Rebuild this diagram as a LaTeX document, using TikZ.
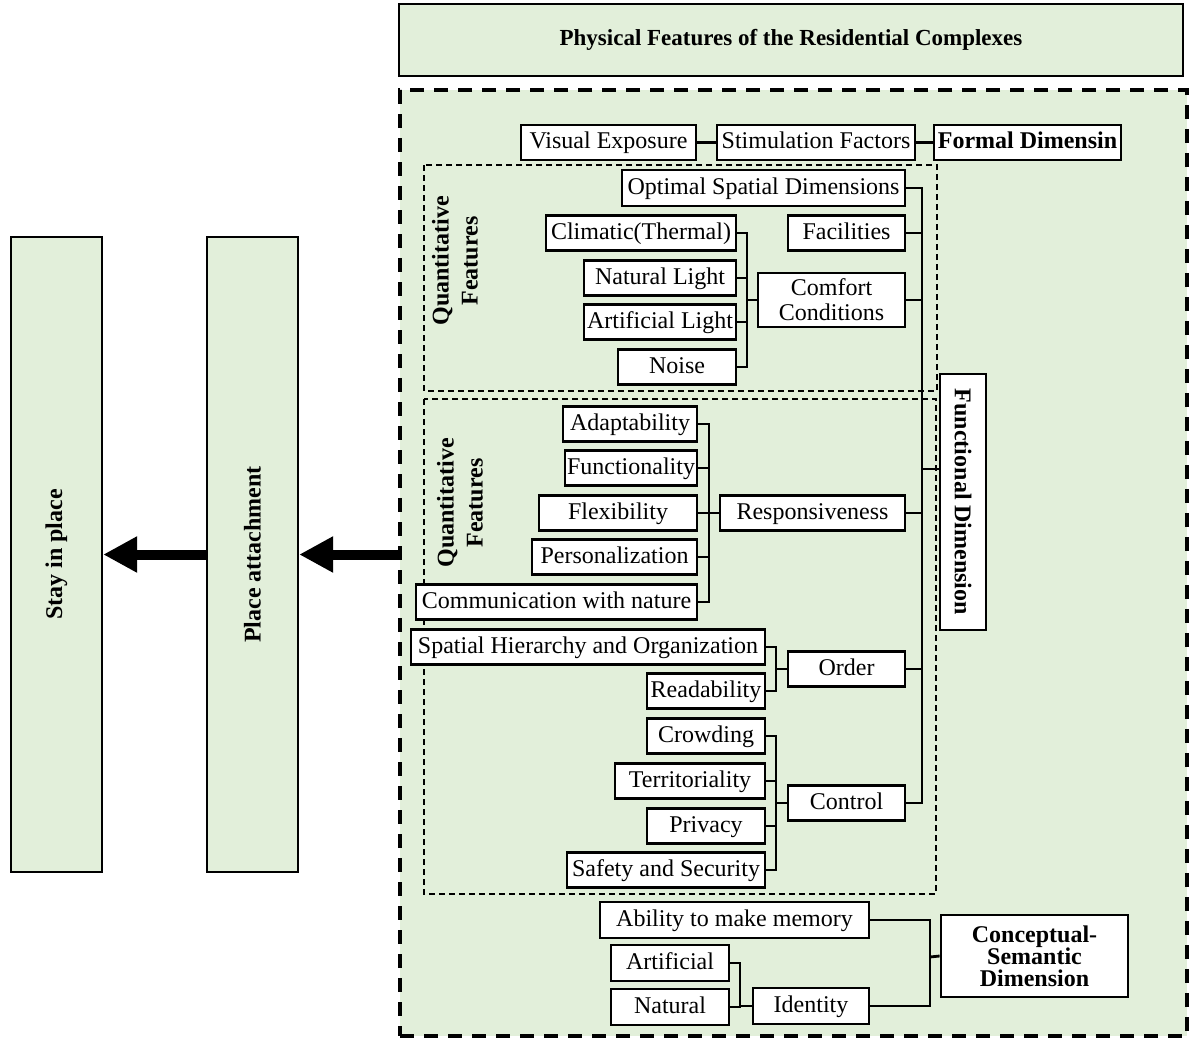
\documentclass[tikz,border=0pt]{standalone}
\usepackage{fontspec}
\setmainfont{Liberation Serif}
\usepackage{graphicx}
\usepackage{tikz}
\usetikzlibrary{arrows.meta}
\definecolor{panelgreen}{HTML}{E2EFDA}

\begin{document}
\begin{tikzpicture}[x=0.5pt,y=-0.5pt]
% Define styles
\tikzstyle{box} = [draw, fill=white, line width=1.4pt, inner sep=0pt, minimum height=17.5pt, text centered, align=center, font=\fontsize{12}{12.5}\selectfont]
\tikzstyle{feat} = [box, text height=0.88em, text depth=0.25em]
\tikzstyle{dim} = [box, font=\fontsize{12}{11}\selectfont\bfseries]
\tikzstyle{panel} = [draw, fill=panelgreen, line width=1.2pt, inner sep=0pt, font=\fontsize{12}{12}\selectfont\bfseries]
\tikzstyle{group} = [draw, dash pattern=on 3pt off 2pt, line width=1pt]
\tikzstyle{link} = [line width=1.4pt]
\tikzstyle{bigarrow} = [line width=5pt, -{Triangle[length=17pt,width=17pt]}]
\useasboundingbox (0,0) rectangle (1189,1039);

% Panels
\node[panel, minimum width=392pt, minimum height=36pt, font=\fontsize{11.5}{12}\selectfont\bfseries] (phys) at (791,40) {Physical Features of the Residential Complexes};
\node[panel, line width=2pt, dash pattern=on 7pt off 5pt, minimum width=393.5pt, minimum height=473pt] (features) at (793.5,563) {};
\node[panel, minimum width=45.5pt, minimum height=317.5pt] (stay) at (56.5,554.5) {\rotatebox{90}{Stay in place}};
\node[panel, minimum width=45.5pt, minimum height=317.5pt] (attach) at (252.5,554.5) {\rotatebox{90}{Place attachment}};

% Groups
\draw[group] (424,165) rectangle (937,391);
\draw[group] (424,399) rectangle (936,894);
\node[rotate=90, align=center, font=\fontsize{12}{14.5}\selectfont\bfseries] (quant_a) at (455,261) {Quantitative\\Features};
\node[rotate=90, align=center, font=\fontsize{12}{14.5}\selectfont\bfseries] (quant_b) at (460,503) {Quantitative\\Features};

% Formal dimension
\node[feat, minimum width=87.5pt] (vis) at (608.5,142.5) {Visual Exposure};
\node[feat, minimum width=99pt] (stim) at (816,142.5) {Stimulation Factors};
\node[feat, font=\fontsize{12}{11}\selectfont\bfseries, minimum width=93.5pt] (formal) at (1027.5,142.5) {Formal Dimensin};

% Functional dimension
\node[feat, minimum width=141.5pt, minimum height=18pt] (opt) at (763.5,188) {Optimal Spatial Dimensions};
\node[feat, minimum width=58.5pt] (fac) at (846.5,233) {Facilities};
\node[box, minimum width=73.5pt, minimum height=27pt] (comf) at (831.5,300) {Comfort\\Conditions};
\node[feat, minimum width=95pt] (clim) at (641,233) {Climatic(Thermal)};
\node[feat, minimum width=76pt] (natl) at (660,278) {Natural Light};
\node[feat, minimum width=76pt] (artl) at (660,322) {Artificial Light};
\node[feat, minimum width=59pt] (noise) at (677,367) {Noise};

\node[feat, minimum width=67pt] (adapt) at (630,424) {Adaptability};
\node[feat, minimum width=66pt] (func) at (631,468) {Functionality};
\node[feat, minimum width=79pt] (flex) at (618,513) {Flexibility};
\node[feat, minimum width=82.5pt] (pers) at (614.5,557) {Personalization};
\node[feat, minimum width=140.5pt] (comm) at (556.5,602) {Communication with nature};
\node[feat, minimum width=92.5pt] (resp) at (812.5,513) {Responsiveness};

\node[feat, minimum width=177pt] (shier) at (588,647) {Spatial Hierarchy and Organization};
\node[feat, minimum width=59pt] (read) at (706,691) {Readability};
\node[feat, minimum width=58.5pt] (order) at (846.5,669) {Order};

\node[feat, minimum width=59pt] (crowd) at (706,736) {Crowding};
\node[feat, minimum width=75pt] (terr) at (690,781) {Territoriality};
\node[feat, minimum width=59pt] (priv) at (706,826) {Privacy};
\node[feat, minimum width=99pt] (safe) at (666,870) {Safety and Security};
\node[feat, minimum width=58.5pt] (control) at (846.5,803) {Control};

\node[dim, minimum width=23pt, minimum height=128pt] (fdim) at (963,502) {\rotatebox{-90}{Functional Dimension}};

% Conceptual-semantic dimension
\node[feat, minimum width=134.5pt, minimum height=18pt] (memory) at (734.5,920) {Ability to make memory};
\node[feat, minimum width=59pt, minimum height=18pt] (artif) at (670,963) {Artificial};
\node[feat, minimum width=59pt, minimum height=18pt] (natur) at (670,1007) {Natural};
\node[feat, minimum width=58pt, minimum height=18pt] (ident) at (811,1006) {Identity};
\node[dim, minimum width=93.5pt, minimum height=41pt] (concept) at (1034.5,956) {Conceptual-\\Semantic\\Dimension};

% Bus points
\coordinate (cbus) at (747,300);
\coordinate (rbus) at (709,513);
\coordinate (obus) at (776,669);
\coordinate (ctbus) at (776,803);
\coordinate (fbus) at (922,469);
\coordinate (ibus) at (740,1006);
\coordinate (sbus) at (930,957);

% Connect the nodes
\draw[link] (vis) -- (stim);
\draw[link] (stim) -- (formal);
\foreach \n in {clim,natl,artl,noise} \draw[link] (\n.east) -| (cbus);
\draw[link] (cbus) -- (comf.west);
\foreach \n in {adapt,func,flex,pers,comm} \draw[link] (\n.east) -| (rbus);
\draw[link] (rbus) -- (resp.west);
\foreach \n in {shier,read} \draw[link] (\n.east) -| (obus);
\draw[link] (obus) -- (order.west);
\foreach \n in {crowd,terr,priv,safe} \draw[link] (\n.east) -| (ctbus);
\draw[link] (ctbus) -- (control.west);
\foreach \n in {opt,fac,comf,resp,order,control} \draw[link] (\n.east) -| (fbus);
\draw[link] (fbus) -- (fbus -| fdim.west);
\foreach \n in {artif,natur} \draw[link] (\n.east) -| (ibus);
\draw[link] (ibus) -- (ident.west);
\foreach \n in {memory,ident} \draw[link] (\n.east) -| (sbus);
\draw[link] (sbus) -- (concept.west);

% Arrows
\draw[bigarrow] (features.west |- attach.east) -- (attach.east);
\draw[bigarrow] (attach.west) -- (stay.east);

\end{tikzpicture}
\end{document}
